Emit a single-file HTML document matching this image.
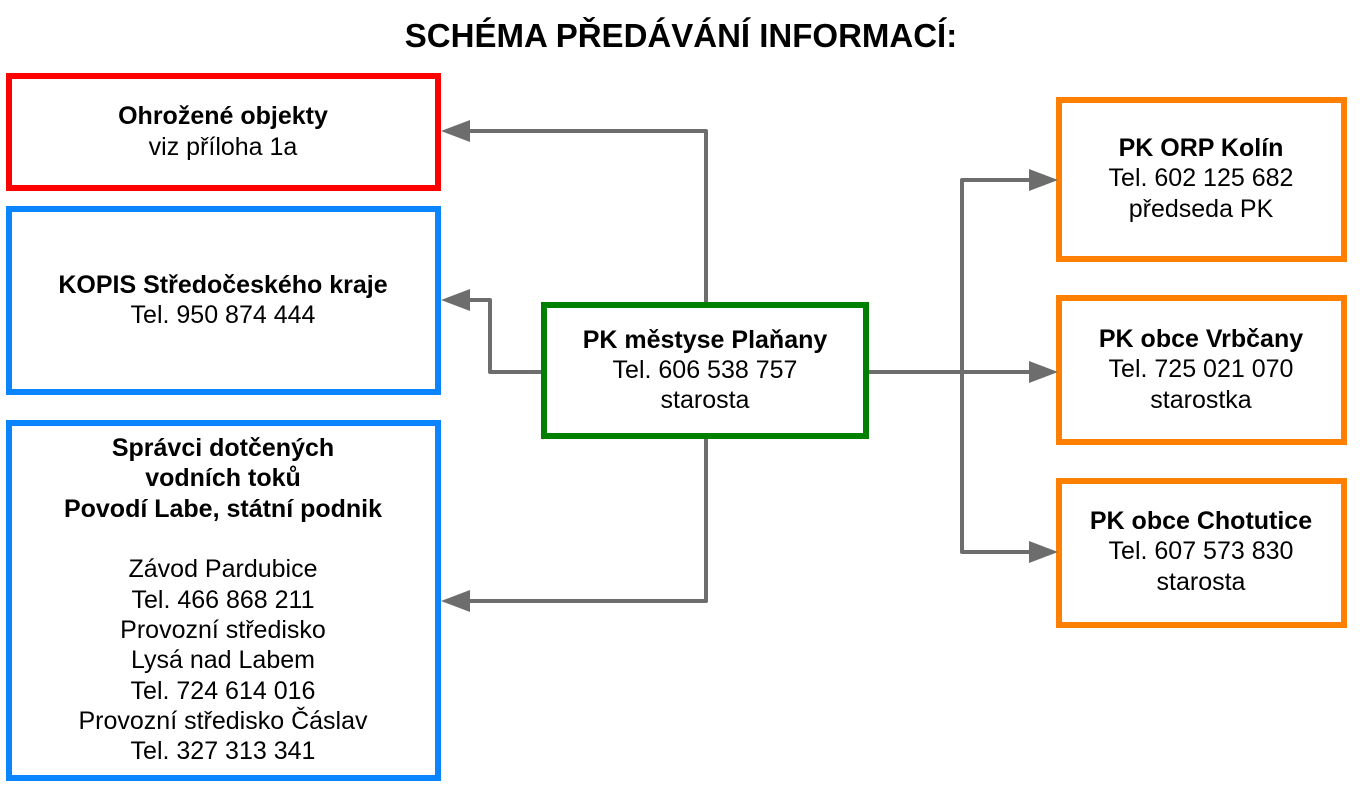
<!DOCTYPE html>
<html><head><meta charset="utf-8"><style>
body{margin:0;background:#fff;}
svg text{font-family:"Liberation Sans","DejaVu Sans",sans-serif;font-size:25px;fill:#000;text-anchor:middle;}
.b{font-weight:bold;}
</style></head><body>
<svg width="1360" height="787" xmlns="http://www.w3.org/2000/svg">
<text x="681" y="47" class="b" style="font-size:33px">SCHÉMA PŘEDÁVÁNÍ INFORMACÍ:</text>
<g fill="none" stroke-width="6">
<rect x="9" y="76" width="429" height="112" stroke="#ff0000"/>
<rect x="9" y="209" width="429" height="183" stroke="#0a84ff"/>
<rect x="9" y="423" width="429" height="355" stroke="#0a84ff"/>
<rect x="544" y="305" width="322" height="131" stroke="#008000"/>
<rect x="1059" y="100" width="285" height="159" stroke="#ff8000"/>
<rect x="1059" y="298" width="285" height="144" stroke="#ff8000"/>
<rect x="1059" y="481" width="285" height="144" stroke="#ff8000"/>
</g>
<g fill="none" stroke="#6d6d6d" stroke-width="4" stroke-linejoin="round">
<polyline points="706,302 706,131 468,131"/>
<polyline points="541,372 490,372 490,300 468,300"/>
<polyline points="706,439 706,601 468,601"/>
<polyline points="869,372 1030,372"/>
<polyline points="1030,180 962,180 962,552 1030,552"/>
</g>
<g fill="#6d6d6d">
<polygon points="441,131 470,120 470,142"/>
<polygon points="441,300 470,289 470,311"/>
<polygon points="441,601 470,590 470,612"/>
<polygon points="1058,180 1029,169 1029,191"/>
<polygon points="1058,372 1029,361 1029,383"/>
<polygon points="1058,552 1029,541 1029,563"/>
</g>
<text x="223" y="124" class="b">Ohrožené objekty</text>
<text x="223" y="155">viz příloha 1a</text>
<text x="223" y="293" class="b">KOPIS Středočeského kraje</text>
<text x="223" y="323">Tel. 950 874 444</text>
<text x="223" y="456" class="b">Správci dotčených</text>
<text x="223" y="486" class="b">vodních toků</text>
<text x="223" y="517" class="b">Povodí Labe, státní podnik</text>
<text x="223" y="577">Závod Pardubice</text>
<text x="223" y="608">Tel. 466 868 211</text>
<text x="223" y="638">Provozní středisko</text>
<text x="223" y="668">Lysá nad Labem</text>
<text x="223" y="699">Tel. 724 614 016</text>
<text x="223" y="729">Provozní středisko Čáslav</text>
<text x="223" y="759">Tel. 327 313 341</text>
<text x="705" y="348" class="b">PK městyse Plaňany</text>
<text x="705" y="378">Tel. 606 538 757</text>
<text x="705" y="408">starosta</text>
<text x="1201" y="156" class="b">PK ORP Kolín</text>
<text x="1201" y="186">Tel. 602 125 682</text>
<text x="1201" y="217">předseda PK</text>
<text x="1201" y="347" class="b">PK obce Vrbčany</text>
<text x="1201" y="377">Tel. 725 021 070</text>
<text x="1201" y="408">starostka</text>
<text x="1201" y="529" class="b">PK obce Chotutice</text>
<text x="1201" y="559">Tel. 607 573 830</text>
<text x="1201" y="590">starosta</text>
</svg>
</body></html>
